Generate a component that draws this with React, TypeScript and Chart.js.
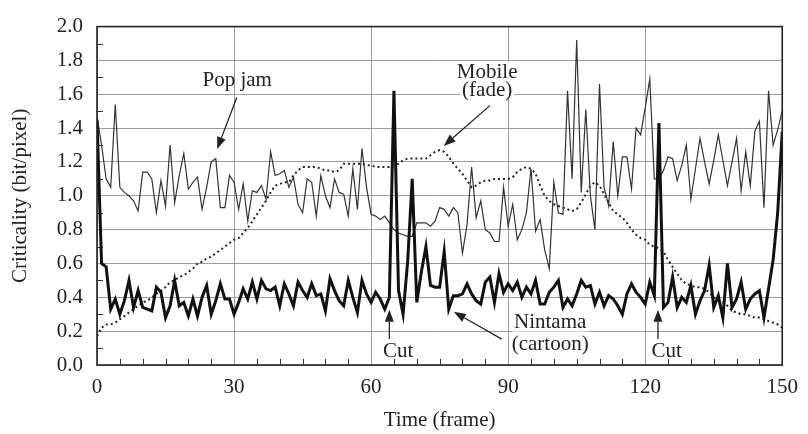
import React, { useEffect, useRef } from "react";
import { Chart, registerables } from "chart.js";

Chart.register(...registerables);

// Frame index (x axis), 0..150
const FRAMES: number[] = Array.from({ length: 151 }, (_, i) => i);
const X_MAX = 150;
const X_STEP = 30;
const Y_MAX = 2.0;
const Y_STEP = 0.2;

// Pop jam (thin line)
const POP_JAM: number[] = [
  1.47, 1.30, 1.10, 1.05, 1.54, 1.05, 1.02, 1.00, 0.97, 0.91,
  1.14, 1.14, 1.10, 0.90, 1.09, 0.94, 1.30, 0.96, 1.12, 1.25,
  1.04, 1.08, 1.11, 0.92, 1.05, 1.20, 1.22, 0.93, 0.93, 1.12,
  1.08, 0.92, 1.07, 0.85, 1.03, 1.02, 1.06, 0.98, 1.26, 1.12,
  1.13, 1.15, 1.05, 1.11, 0.95, 0.90, 1.10, 1.08, 0.88, 1.12,
  1.00, 0.93, 1.10, 1.02, 1.01, 0.88, 1.16, 0.92, 1.28, 1.05,
  0.89, 0.88, 0.86, 0.88, 0.84, 0.80, 0.78, 0.77, 0.76, 0.76,
  0.84, 0.84, 0.84, 0.82, 0.85, 0.93, 0.92, 0.88, 0.93, 0.90,
  0.66, 0.83, 1.17, 0.87, 0.97, 0.80, 0.78, 0.73, 0.73, 1.05,
  0.82, 0.95, 0.74, 0.80, 0.90, 1.16, 0.79, 0.86, 0.68, 0.57,
  1.08, 0.90, 0.89, 1.62, 1.10, 1.92, 1.02, 1.51, 1.00, 0.80,
  1.66, 1.05, 0.94, 1.32, 1.00, 1.23, 1.23, 1.04, 1.40, 1.36,
  1.52, 1.69, 1.10, 1.10, 1.15, 1.23, 1.22, 1.09, 1.18, 1.30,
  0.98, 1.16, 1.34, 1.20, 1.07, 1.21, 1.36, 1.21, 1.06, 1.20,
  1.34, 1.03, 1.26, 1.06, 1.38, 1.44, 0.93, 1.62, 1.30, 1.39,
  1.50,
];

// Nintama (cartoon) (thick line)
const NINTAMA: number[] = [
  1.45, 0.60, 0.58, 0.33, 0.39, 0.30, 0.38, 0.50, 0.34, 0.44,
  0.34, 0.33, 0.32, 0.46, 0.43, 0.28, 0.35, 0.50, 0.35, 0.37,
  0.29, 0.39, 0.29, 0.40, 0.47, 0.30, 0.38, 0.48, 0.39, 0.39,
  0.30, 0.37, 0.45, 0.39, 0.49, 0.39, 0.50, 0.45, 0.44, 0.46,
  0.35, 0.48, 0.42, 0.35, 0.49, 0.44, 0.40, 0.48, 0.41, 0.42,
  0.32, 0.51, 0.44, 0.38, 0.35, 0.50, 0.40, 0.31, 0.50, 0.42,
  0.37, 0.43, 0.39, 0.33, 0.40, 1.62, 0.44, 0.30, 0.61, 1.10,
  0.37, 0.55, 0.70, 0.47, 0.46, 0.46, 0.67, 0.33, 0.41, 0.41,
  0.42, 0.48, 0.42, 0.38, 0.36, 0.49, 0.52, 0.37, 0.54, 0.43,
  0.48, 0.44, 0.49, 0.40, 0.46, 0.42, 0.50, 0.36, 0.36, 0.43,
  0.46, 0.50, 0.34, 0.39, 0.35, 0.42, 0.50, 0.46, 0.47, 0.36,
  0.43, 0.35, 0.41, 0.39, 0.35, 0.30, 0.42, 0.48, 0.43, 0.40,
  0.36, 0.49, 0.41, 1.43, 0.34, 0.37, 0.52, 0.34, 0.40, 0.37,
  0.47, 0.30, 0.38, 0.44, 0.59, 0.34, 0.41, 0.28, 0.60, 0.34,
  0.39, 0.49, 0.33, 0.39, 0.42, 0.44, 0.28, 0.45, 0.62, 0.90,
  1.38,
];

// Mobile (fade) (dotted line)
const MOBILE: number[] = [
  0.17, 0.22, 0.24, 0.24, 0.25, 0.27, 0.29, 0.31, 0.33, 0.35,
  0.37, 0.38, 0.40, 0.42, 0.44, 0.46, 0.49, 0.50, 0.52, 0.53,
  0.55, 0.57, 0.60, 0.61, 0.63, 0.64, 0.66, 0.68, 0.70, 0.72,
  0.74, 0.75, 0.78, 0.81, 0.85, 0.89, 0.93, 0.97, 1.02, 1.06,
  1.07, 1.08, 1.08, 1.12, 1.15, 1.17, 1.17, 1.17, 1.17, 1.16,
  1.15, 1.15, 1.14, 1.15, 1.19, 1.19, 1.19, 1.19, 1.19, 1.18,
  1.18, 1.17, 1.17, 1.17, 1.17, 1.18, 1.19, 1.21, 1.22, 1.22,
  1.22, 1.22, 1.22, 1.24, 1.26, 1.27, 1.26, 1.23, 1.19, 1.16,
  1.13, 1.09, 1.05, 1.06, 1.08, 1.09, 1.09, 1.10, 1.10, 1.10,
  1.10, 1.11, 1.14, 1.16, 1.17, 1.16, 1.13, 1.06, 1.00, 0.97,
  0.95, 0.94, 0.93, 0.92, 0.91, 0.92, 0.96, 1.01, 1.06, 1.08,
  1.06, 1.01, 0.96, 0.91, 0.89, 0.87, 0.84, 0.80, 0.77, 0.75,
  0.74, 0.71, 0.70, 0.69, 0.67, 0.62, 0.58, 0.54, 0.50, 0.48,
  0.47, 0.46, 0.46, 0.45, 0.43, 0.40, 0.38, 0.37, 0.35, 0.32,
  0.31, 0.30, 0.30, 0.29, 0.28, 0.28, 0.27, 0.26, 0.25, 0.24,
  0.22,
];

// Text labels placed in data coordinates
const LABELS: { text: string; x: number; y: number; bg: boolean }[] = [
  { text: "Pop jam", x: 30.7, y: 1.686, bg: false },
  { text: "Mobile", x: 85.4, y: 1.733, bg: true },
  { text: "(fade)", x: 85.4, y: 1.629, bg: true },
  { text: "Cut", x: 65.9, y: 0.086, bg: false },
  { text: "Nintama", x: 99.2, y: 0.257, bg: true },
  { text: "(cartoon)", x: 99.2, y: 0.126, bg: true },
  { text: "Cut", x: 124.7, y: 0.086, bg: false },
];

// Arrows: [fromX, fromY, toX, toY] in data coordinates
const ARROWS: number[][] = [
  [30.6, 1.581, 26.3, 1.276],
  [86.0, 1.533, 75.9, 1.295],
  [64.0, 0.154, 64.0, 0.326],
  [88.6, 0.153, 78.1, 0.314],
  [122.8, 0.154, 122.8, 0.326],
];

const FONT_FAMILY = "'Liberation Serif', 'Times New Roman', Times, serif";
const TEXT_COLOR = "#222";

const decorPlugin = {
  id: "decor",
  beforeDatasetsDraw(chart: any) {
    const { ctx, chartArea, scales } = chart;
    const xs = scales.x;
    const ys = scales.y;
    ctx.save();
    ctx.strokeStyle = "#333";
    ctx.lineWidth = 1;
    // minor ticks on y axis (inside)
    for (let v = 0.1; v < Y_MAX; v += Y_STEP) {
      const py = Math.round(ys.getPixelForValue(v)) + 0.5;
      ctx.beginPath();
      ctx.moveTo(chartArea.left, py);
      ctx.lineTo(chartArea.left + 6, py);
      ctx.stroke();
    }
    // minor ticks on x axis (inside)
    for (let f = 5; f < X_MAX; f += 5) {
      if (f % X_STEP === 0) continue;
      const px = Math.round(xs.getPixelForValue(f)) + 0.5;
      ctx.beginPath();
      ctx.moveTo(px, chartArea.bottom);
      ctx.lineTo(px, chartArea.bottom - 6);
      ctx.stroke();
    }
    ctx.restore();
  },
  afterDatasetsDraw(chart: any) {
    const { ctx, chartArea, scales } = chart;
    const xs = scales.x;
    const ys = scales.y;
    ctx.save();
    // frame
    ctx.strokeStyle = "#222";
    ctx.lineWidth = 1.6;
    ctx.strokeRect(
      chartArea.left,
      chartArea.top,
      chartArea.right - chartArea.left,
      chartArea.bottom - chartArea.top
    );

    // labels
    ctx.font = `21px ${FONT_FAMILY}`;
    ctx.textAlign = "center";
    ctx.textBaseline = "middle";
    for (const l of LABELS) {
      const px = xs.getPixelForValue(l.x);
      const py = ys.getPixelForValue(l.y);
      if (l.bg) {
        const w = ctx.measureText(l.text).width;
        ctx.fillStyle = "#fff";
        ctx.fillRect(px - w / 2 - 2, py - 10, w + 4, 20);
      }
      ctx.fillStyle = TEXT_COLOR;
      ctx.fillText(l.text, px, py + 1);
    }

    // arrows
    ctx.strokeStyle = "#222";
    ctx.fillStyle = "#222";
    ctx.lineWidth = 1.3;
    for (const a of ARROWS) {
      const x1 = xs.getPixelForValue(a[0]);
      const y1 = ys.getPixelForValue(a[1]);
      const x2 = xs.getPixelForValue(a[2]);
      const y2 = ys.getPixelForValue(a[3]);
      const ang = Math.atan2(y2 - y1, x2 - x1);
      const headLen = 12;
      const headW = 4.5;
      const bx = x2 - headLen * Math.cos(ang);
      const by = y2 - headLen * Math.sin(ang);
      ctx.beginPath();
      ctx.moveTo(x1, y1);
      ctx.lineTo(bx, by);
      ctx.stroke();
      ctx.beginPath();
      ctx.moveTo(x2, y2);
      ctx.lineTo(bx + headW * Math.sin(ang), by - headW * Math.cos(ang));
      ctx.lineTo(bx - headW * Math.sin(ang), by + headW * Math.cos(ang));
      ctx.closePath();
      ctx.fill();
    }
    ctx.restore();
  },
};

export default function App() {
  const canvasRef = useRef<HTMLCanvasElement | null>(null);

  useEffect(() => {
    const canvas = canvasRef.current;
    if (!canvas) return;
    const chart = new Chart(canvas, {
      type: "line",
      data: {
        labels: FRAMES,
        datasets: [
          {
            label: "Nintama (cartoon)",
            data: NINTAMA,
            borderColor: "#111",
            borderWidth: 3,
            pointRadius: 0,
            tension: 0,
            fill: false,
            borderJoinStyle: "miter",
          },
          {
            label: "Pop jam",
            data: POP_JAM,
            borderColor: "#333",
            borderWidth: 1.2,
            pointRadius: 0,
            tension: 0,
            fill: false,
          },
          {
            label: "Mobile (fade)",
            data: MOBILE,
            borderColor: "#222",
            borderWidth: 2,
            borderDash: [2, 3],
            pointRadius: 0,
            tension: 0,
            fill: false,
          },
        ],
      },
      options: {
        responsive: false,
        animation: false,
        devicePixelRatio: 1,
        layout: { padding: { top: 15, right: 18, left: 0, bottom: 0 } },
        plugins: {
          legend: { display: false },
          tooltip: { enabled: false },
        },
        scales: {
          x: {
            type: "linear",
            min: 0,
            max: X_MAX,
            ticks: {
              stepSize: X_STEP,
              padding: 10,
              color: TEXT_COLOR,
              font: { family: FONT_FAMILY, size: 21 },
              maxRotation: 0,
            },
            grid: { color: "#9a9a9a", lineWidth: 1, drawTicks: false },
            border: { display: false },
            title: {
              display: true,
              text: "Time (frame)",
              color: TEXT_COLOR,
              font: { family: FONT_FAMILY, size: 21 },
              padding: { top: 0, bottom: 1.4 },
            },
            afterFit: (s: any) => {
              s.height = 69;
            },
          },
          y: {
            type: "linear",
            min: 0,
            max: Y_MAX,
            ticks: {
              stepSize: Y_STEP,
              padding: 14,
              color: TEXT_COLOR,
              font: { family: FONT_FAMILY, size: 21 },
              callback: (v: any) => Number(v).toFixed(1),
            },
            grid: { color: "#9a9a9a", lineWidth: 1, drawTicks: false },
            border: { display: false },
            title: {
              display: true,
              text: "Criticality (bit/pixel)",
              color: TEXT_COLOR,
              font: { family: FONT_FAMILY, size: 21 },
              padding: { top: 7.4, bottom: 0 },
            },
            afterFit: (s: any) => {
              s.width = 97;
            },
          },
        },
      },
      plugins: [decorPlugin],
    });
    return () => chart.destroy();
  }, []);

  return (
    <div style={{ position: "absolute", left: 0, top: 0, width: 808, height: 434, background: "#fff" }}>
      <canvas ref={canvasRef} width={808} height={434} style={{ display: "block" }} />
    </div>
  );
}
